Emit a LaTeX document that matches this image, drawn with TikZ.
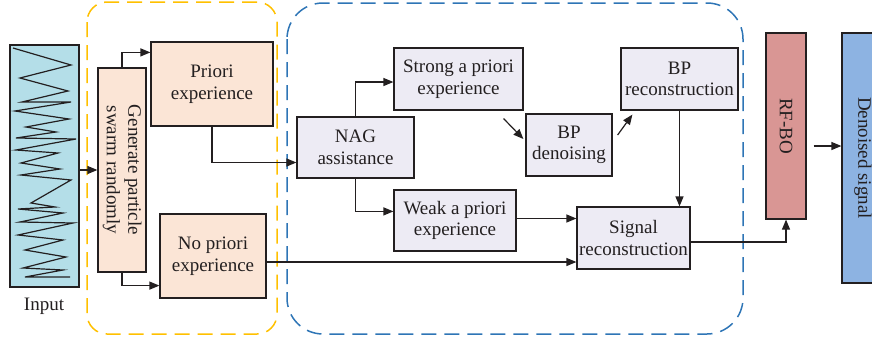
\documentclass[tikz,border=0pt]{standalone}
\usepackage{fontspec}
\setmainfont{Liberation Serif}
\usetikzlibrary{arrows.meta,calc}

\definecolor{peach}{HTML}{FBE5D6}
\definecolor{lavender}{HTML}{EDEBF4}
\definecolor{inblue}{HTML}{B4DEE8}
\definecolor{rfred}{HTML}{D99694}
\definecolor{outblue}{HTML}{8DB3E2}
\definecolor{ygold}{HTML}{FFC000}
\definecolor{dblue}{HTML}{2E75B6}
\definecolor{ink}{HTML}{231F20}

\tikzset{
  box/.style={draw=ink, line width=1.2pt, inner sep=0pt, align=center,
    text=ink, font=\fontsize{19}{21.5}\selectfont},
  peachbox/.style={box, fill=peach},
  lavbox/.style={box, fill=lavender},
  arr/.style={draw=ink, line width=1.2pt,
    -{Stealth[length=10pt,width=8pt,inset=0pt]}},
  groupframe/.style={line width=1.5pt, dash pattern=on 15pt off 8pt},
}

\begin{document}
\begin{tikzpicture}[x=1pt,y=-1pt]
\useasboundingbox (0,0) rectangle (872,343);

% dashed group frames
\draw[groupframe, ygold, rounded corners=20pt] (87,2) rectangle (277,334);
\draw[groupframe, dblue, rounded corners=36pt] (287,3) rectangle (743,334);

% input signal
\node[box, fill=inblue, minimum width=69pt, minimum height=242pt] (input) at (44.5,166) {};
\draw[ink, line width=1.2pt, line join=miter]
  plot coordinates {(13,48) (71,65) (20,78) (68,91) (22,102) (71,102) (15,111)
  (69,119) (26,127) (56,132) (16,138) (76,139) (16,150) (58,153) (21,163)
  (60,169) (21,175) (71,180) (31,203) (55,207) (18,209) (63,213) (20,222)
  (73,223) (18,235) (63,240) (25,250) (66,257) (23,268) (63,270) (25,277)
  (70,277)};
\node[text=ink, font=\fontsize{19}{21.5}\selectfont] (inlabel) at (44,306) {Input};

% particle swarm stage
\node[peachbox, minimum width=48pt, minimum height=204pt] (gen) at (122,170)
  {\rotatebox{-90}{\begin{tabular}{@{}c@{}}Generate particle\\swarm randomly\end{tabular}}};
\node[peachbox, minimum width=122pt, minimum height=84pt] (priori) at (212,84)
  {Priori\\experience};
\node[peachbox, minimum width=106pt, minimum height=84pt] (nopriori) at (213,256)
  {No priori\\experience};

% NAG / BP stage
\node[lavbox, minimum width=117pt, minimum height=61pt] (nag) at (355.5,147.5)
  {NAG\\assistance};
\node[lavbox, minimum width=129pt, minimum height=62pt] (strong) at (458.5,79)
  {Strong a priori\\experience};
\node[lavbox, minimum width=122pt, minimum height=61pt] (weak) at (455,220.5)
  {Weak a priori\\experience};
\node[lavbox, minimum width=86pt, minimum height=62pt] (bpd) at (569,145)
  {BP\\denoising};
\node[lavbox, minimum width=117pt, minimum height=62pt] (bpr) at (679.5,79)
  {BP\\reconstruction};
\node[lavbox, minimum width=113pt, minimum height=62pt] (sig) at (633.5,238)
  {Signal\\reconstruction};

% output stage
\node[box, fill=rfred, minimum width=40pt, minimum height=186pt] (rfbo) at (786,126)
  {\rotatebox{-90}{RF-BO}};
\node[box, fill=outblue, minimum width=42pt, minimum height=250pt] (den) at (863,158)
  {\rotatebox{-90}{Denoised signal}};

% connector end points
\coordinate (npout) at ($(nopriori.east)+(0,6)$);
\coordinate (wkout) at ($(weak.east)+(0,-2)$);
\coordinate (rfout) at ($(rfbo.east)+(7,20)$);

% connectors
\draw[arr] (gen.west -| input.east) -- (gen.west);
\draw[arr] (gen.north) |- ($(priori.north west)+(0,11)$);
\draw[arr] (gen.south) |- ($(nopriori.south west)+(0,-13)$);
\draw[arr] (priori.south) |- ($(nag.west)+(0,15)$);
\draw[arr] (nag.north) |- ($(strong.west)+(0,3)$);
\draw[arr] (nag.south) |- ($(weak.north west)+(0,22)$);
\draw[arr] (wkout) -- (wkout -| sig.west);
\draw[arr] (npout) -- (npout -| sig.west);
\draw[arr] ($(strong.south east)+(-20,8)$) -- ($(bpd.west)+(-2,-6)$);
\draw[arr] ($(bpd.east)+(5,-10)$) -- ($(bpr.south west)+(12,4)$);
\draw[arr] (bpr.south) -- (bpr.south |- sig.north);
\draw[arr] ($(sig.east)+(0,4)$) -| (rfbo.south);
\draw[arr] (rfout) -- (rfout -| den.west);
\end{tikzpicture}
\end{document}
